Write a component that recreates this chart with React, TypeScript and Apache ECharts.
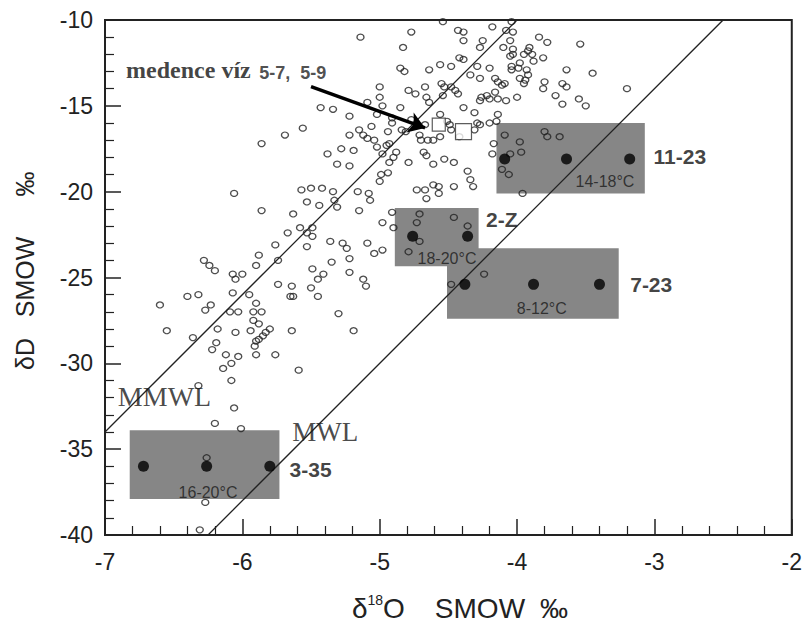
import React, { useEffect, useRef } from "react";
import * as echarts from "echarts";

// δ18O (‰) of the small open-circle samples
const d18O = [
  -5.14, -4.77, -4.54, -4.43, -4.39, -4.39, -4.18, -4.04, -4.08, -4.03,
  -4.27, -4.25, -4.10, -4.05, -4.03, -4.03, -3.84, -3.78, -3.54, -3.91,
  -3.95, -3.89, -3.81, -3.88, -4.05, -4.83, -4.85, -4.82, -5.00, -5.00,
  -4.79, -4.74, -5.09, -4.64, -4.56, -4.48, -4.42, -4.39, -4.29, -4.20,
  -4.34, -4.27, -4.16, -4.14, -4.09, -4.11, -4.67, -4.55, -4.53, -4.54,
  -4.48, -4.45, -4.43, -4.66, -4.64, -4.26, -4.22, -4.20, -4.14, -4.16,
  -4.08, -4.00, -4.27, -4.04, -3.98, -3.99, -4.04, -3.93, -3.92, -3.94,
  -3.98, -3.95, -3.64, -3.45, -3.80, -3.81, -3.67, -3.64, -3.20, -3.72,
  -3.55, -3.92, -3.67, -3.50, -4.39, -4.31, -4.14, -5.43, -5.34, -4.98,
  -4.85, -5.02, -5.22, -4.91, -5.56, -5.69, -5.22, -5.15, -5.06, -5.12,
  -4.91, -4.84, -4.81, -5.86, -4.51, -4.49, -4.29, -4.27, -4.20, -4.15,
  -4.48, -4.31, -4.09, -3.98, -3.80, -3.78, -3.69, -4.70, -4.65, -4.61,
  -5.09, -5.04, -4.42, -4.71, -5.28, -5.19, -5.31, -5.22, -5.38, -5.02,
  -4.93, -4.88, -4.98, -4.90, -4.93, -4.99, -4.94, -5.00, -6.06, -5.57,
  -5.50, -5.42, -5.34, -5.16, -5.08, -4.79, -4.68, -4.66, -4.61, -4.53,
  -4.46, -4.36, -4.17, -4.18, -4.73, -4.67, -4.61, -4.57, -4.57, -4.46,
  -4.34, -4.32, -3.96, -4.11, -4.06, -4.05, -3.97, -5.07, -5.33, -4.66,
  -5.53, -5.44, -5.31, -5.86, -5.63, -5.15, -4.91, -4.98, -5.58, -5.49,
  -5.53, -5.49, -5.67, -4.90, -5.53, -5.76, -5.36, -5.27, -5.24, -5.09,
  -5.04, -4.98, -4.71, -4.73, -4.46, -4.36, -4.71, -4.79, -5.88, -5.90,
  -5.74, -6.28, -6.24, -6.20, -5.35, -5.22, -5.49, -5.41, -5.45, -5.50,
  -5.22, -6.07, -6.05, -6.00, -5.74, -5.64, -5.65, -5.63, -5.45, -5.12,
  -5.10, -6.07, -5.95, -6.40, -6.32, -6.60, -6.23, -6.27, -6.03, -6.09,
  -5.92, -5.86, -5.90, -5.30, -4.24, -4.48, -5.92, -5.88, -5.80, -5.83,
  -5.85, -5.88, -5.90, -5.91, -5.94, -6.05, -5.64, -6.18, -6.55, -5.19,
  -6.36, -6.19, -6.22, -6.12, -6.03, -5.90, -5.76, -6.08, -6.14, -5.59,
  -6.08, -6.32, -6.06, -6.20, -6.01, -6.26, -6.27, -6.31, -4.56, -4.56,
  -4.77, -4.67, -4.94, -4.95,
];

// δD (‰) of the same samples
const dD = [
  -11.0, -10.7, -10.1, -10.6, -10.7, -11.2, -10.4, -10.1, -10.6, -10.7,
  -11.6, -11.2, -11.6, -11.2, -11.7, -12.0, -11.0, -11.3, -11.4, -11.6,
  -12.0, -12.0, -12.2, -12.4, -12.1, -11.6, -12.8, -13.0, -13.9, -14.5,
  -14.1, -14.3, -14.8, -12.9, -12.6, -12.7, -12.2, -12.3, -12.7, -12.8,
  -13.2, -13.4, -13.4, -13.6, -13.7, -13.8, -13.9, -13.7, -13.9, -14.4,
  -13.9, -14.1, -14.3, -14.5, -14.8, -14.5, -14.4, -14.6, -14.6, -14.2,
  -14.7, -14.5, -14.7, -12.7, -12.5, -12.8, -12.9, -12.9, -13.2, -13.5,
  -13.4, -13.7, -12.9, -13.1, -13.6, -14.0, -13.7, -13.9, -14.0, -14.4,
  -14.6, -11.8, -14.9, -15.0, -15.1, -15.4, -15.5, -15.1, -15.2, -15.0,
  -15.1, -15.5, -15.6, -15.7, -16.3, -16.7, -16.7, -16.4, -16.2, -16.7,
  -16.0, -16.4, -16.5, -17.2, -15.9, -16.1, -16.0, -16.1, -16.0, -15.9,
  -16.4, -16.4, -16.7, -17.1, -16.5, -16.8, -16.8, -17.0, -17.0, -17.0,
  -16.9, -17.0, -16.8, -16.7, -17.5, -17.6, -18.4, -18.5, -17.8, -17.4,
  -17.2, -17.7, -17.8, -18.0, -18.3, -19.0, -18.9, -19.4, -20.1, -19.9,
  -19.8, -19.8, -20.0, -20.0, -20.1, -18.3, -17.7, -17.9, -18.4, -18.1,
  -18.3, -18.8, -17.2, -17.8, -19.9, -19.9, -19.6, -19.7, -20.1, -19.7,
  -19.3, -19.7, -20.1, -18.7, -19.0, -17.8, -17.7, -20.5, -20.5, -20.4,
  -20.6, -20.8, -20.9, -21.1, -21.3, -21.1, -21.2, -21.8, -22.1, -22.1,
  -22.4, -22.6, -22.4, -22.1, -23.2, -23.1, -22.9, -23.0, -23.3, -23.0,
  -23.6, -23.4, -21.3, -21.8, -21.5, -22.0, -22.9, -23.5, -23.7, -24.3,
  -24.0, -24.0, -24.3, -24.6, -24.1, -23.9, -24.5, -24.8, -25.1, -25.6,
  -24.7, -24.8, -25.1, -24.8, -25.4, -25.5, -26.1, -26.1, -26.1, -25.1,
  -25.5, -25.9, -26.0, -26.1, -26.0, -26.6, -26.6, -26.9, -27.0, -27.0,
  -27.0, -27.0, -26.5, -27.1, -24.8, -25.4, -27.5, -27.7, -28.0, -28.2,
  -28.4, -28.6, -28.7, -29.0, -28.1, -28.2, -28.1, -28.0, -28.1, -28.1,
  -28.5, -28.8, -29.2, -29.5, -29.6, -29.5, -29.5, -30.0, -30.3, -30.4,
  -31.0, -31.3, -32.6, -33.5, -33.8, -35.5, -38.1, -39.7, -15.5, -16.8,
  -15.8, -16.1, -16.5, -17.3,
];

// Spring groups (shaded boxes)
const groupNames = ["11-23", "2-Z", "7-23", "3-35"];
const groupTemps = ["14-18°C", "18-20°C", "8-12°C", "16-20°C"];
const groupBoxO = [[-4.15, -3.07], [-4.89, -4.28], [-4.51, -3.26], [-6.82, -5.73]];
const groupBoxD = [[-16.0, -20.1], [-20.95, -24.35], [-23.3, -27.4], [-33.9, -37.9]];
const groupSampleO = [[-4.09, -3.64, -3.18], [-4.76, -4.36], [-4.38, -3.88, -3.40], [-6.72, -6.26, -5.80]];
const groupSampleD = [-18.1, -22.6, -25.4, -36.0];

// Basin water samples (5-7, 5-9) – open squares
const basinO = [-4.57, -4.39];
const basinD = [-16.1, -16.5];

// Meteoric water lines
const mmwlO = [-7.0, -4.0];
const mmwlD = [-34.0, -10.0];
const mwlO = [-6.25, -2.5];
const mwlD = [-40.0, -10.0];

// Axis ranges
const xRange = [-7, -2];
const yRange = [-40, -10];

// Annotation anchors (data coordinates)
const groupLabelAt = [[-3.01, -17.95], [-4.23, -21.6], [-3.18, -25.4], [-5.66, -36.2]];
const groupTempAt = [[-3.36, -19.43], [-4.51, -23.9], [-3.82, -26.8], [-6.25, -37.5]];
const arrowFrom = [-5.50, -13.88];
const arrowTo = [-4.67, -16.29];

const SANS = "'Liberation Sans', Arial, Helvetica, sans-serif";
const SERIF = "'Liberation Serif', 'Times New Roman', serif";

export default function App() {
  const ref = useRef<HTMLDivElement>(null);

  useEffect(() => {
    if (!ref.current) return;
    const chart = echarts.init(ref.current, null, { renderer: "svg" });

    const points = d18O.map((x, i) => [x, dD[i]]);
    const boxAreas = groupBoxO.map((xo, i) => [
      { coord: [xo[0], groupBoxD[i][0]] },
      { coord: [xo[1], groupBoxD[i][1]] },
    ]);
    const samples: number[][] = [];
    groupSampleO.forEach((xs, i) => xs.forEach((x) => samples.push([x, groupSampleD[i]])));

    const txt = (pos: number[], text: string, style: any) => ({
      value: pos,
      label: { show: true, formatter: text, ...style },
    });
    const labels: any[] = [];
    groupNames.forEach((n, i) =>
      labels.push(
        txt(groupLabelAt[i], n, {
          position: "right",
          distance: 0,
          fontFamily: SANS,
          fontWeight: "bold",
          fontSize: 21,
          color: "#111",
        })
      )
    );
    groupTemps.forEach((t, i) =>
      labels.push(
        txt(groupTempAt[i], t, {
          position: "inside",
          fontFamily: SANS,
          fontSize: 16,
          color: "#1a1a1a",
        })
      )
    );
    labels.push(
      txt([-6.85, -12.91], "medence víz", {
        position: "right",
        distance: 0,
        fontFamily: SERIF,
        fontWeight: "bold",
        fontSize: 24,
        color: "#111",
      })
    );
    labels.push(
      txt([-5.88, -13.09], "5-7,  5-9", {
        position: "right",
        distance: 0,
        fontFamily: SANS,
        fontWeight: "bold",
        fontSize: 18,
        color: "#222",
      })
    );
    labels.push(
      txt([-6.91, -31.96], "MMWL", {
        position: "right",
        distance: 0,
        fontFamily: SERIF,
        fontSize: 28,
        color: "#1a1a1a",
      })
    );
    labels.push(
      txt([-5.64, -34.0], "MWL", {
        position: "right",
        distance: 0,
        fontFamily: SERIF,
        fontSize: 27,
        color: "#1a1a1a",
      })
    );

    const axisCommon = {
      type: "value",
      axisLine: { show: true, onZero: false, lineStyle: { color: "#222", width: 2 } },
      axisTick: { show: true, inside: true, length: 16, lineStyle: { color: "#222", width: 1.5 } },
      minorTick: { show: true, splitNumber: 5, length: 9, lineStyle: { color: "#222", width: 1.2 } },
      splitLine: { show: false },
      minorSplitLine: { show: false },
    };

    chart.setOption({
      animation: false,
      backgroundColor: "#fff",
      grid: {
        left: 105,
        right: 13,
        top: 20,
        bottom: 88,
        show: true,
        borderColor: "#222",
        borderWidth: 2,
      },
      xAxis: {
        ...axisCommon,
        min: xRange[0],
        max: xRange[1],
        interval: 1,
        axisLabel: { fontSize: 23, color: "#222", fontFamily: SANS, margin: 15 },
      },
      yAxis: {
        ...axisCommon,
        min: yRange[0],
        max: yRange[1],
        interval: 5,
        axisLabel: { fontSize: 23, color: "#222", fontFamily: SANS, margin: 12 },
      },
      graphic: [
        // y-axis title (reads bottom to top): "δD  SMOW" then "‰"
        {
          type: "text",
          x: 25,
          y: 370,
          rotation: Math.PI / 2,
          style: {
            text: "δD   SMOW",
            font: `25px ${SANS}`,
            fill: "#222",
            align: "left",
            verticalAlign: "middle",
          },
        },
        {
          type: "text",
          x: 25,
          y: 184,
          rotation: Math.PI / 2,
          style: {
            text: "‰",
            font: `25px ${SANS}`,
            fill: "#222",
            align: "center",
            verticalAlign: "middle",
          },
        },
        // x-axis title
        {
          type: "text",
          x: 460,
          y: 608,
          style: {
            text: "{a|δ}{s|18}{a|O}{g1|}{a|SMOW}{g2|}{a|‰}",
            align: "center",
            verticalAlign: "middle",
            rich: {
              a: { fontFamily: SANS, fontSize: 28, fill: "#222", color: "#222", lineHeight: 30 },
              s: { fontFamily: SANS, fontSize: 14, fill: "#222", color: "#222", verticalAlign: "top", lineHeight: 30 },
              g1: { width: 30 },
              g2: { width: 15 },
            },
          },
        },
      ],
      series: [
        {
          name: "boxes",
          type: "scatter",
          z: 1,
          silent: true,
          symbolSize: 0,
          data: [],
          markArea: {
            silent: true,
            itemStyle: { color: "#868686", opacity: 1 },
            label: { show: false },
            data: boxAreas,
          },
        },
        {
          name: "MMWL",
          type: "line",
          z: 2,
          symbol: "none",
          silent: true,
          lineStyle: { color: "#222", width: 1.3 },
          data: mmwlO.map((x, i) => [x, mmwlD[i]]),
        },
        {
          name: "MWL",
          type: "line",
          z: 2,
          symbol: "none",
          silent: true,
          lineStyle: { color: "#222", width: 1.3 },
          data: mwlO.map((x, i) => [x, mwlD[i]]),
        },
        {
          name: "samples",
          type: "scatter",
          z: 3,
          symbol: "circle",
          symbolSize: [7, 6],
          itemStyle: { color: "rgba(0,0,0,0)", borderColor: "#222", borderWidth: 1.3 },
          data: points,
        },
        {
          name: "springs",
          type: "scatter",
          z: 4,
          symbol: "circle",
          symbolSize: 11,
          itemStyle: { color: "#000" },
          data: samples,
        },
        {
          name: "basin",
          type: "scatter",
          z: 5,
          symbol: "rect",
          itemStyle: { color: "#fff", borderColor: "#333", borderWidth: 1.2 },
          data: basinO.map((x, i) => ({ value: [x, basinD[i]], symbolSize: i === 0 ? 13 : 16 })),
          markLine: {
            silent: true,
            symbol: ["none", "arrow"],
            symbolSize: 16,
            label: { show: false },
            lineStyle: { color: "#000", width: 3.5, type: "solid" },
            data: [[{ coord: arrowFrom }, { coord: arrowTo }]],
          },
        },
        {
          name: "labels",
          type: "scatter",
          z: 7,
          silent: true,
          symbolSize: 1,
          itemStyle: { color: "rgba(0,0,0,0)" },
          data: labels,
        },
      ],
    });

    return () => chart.dispose();
  }, []);

  return (
    <div
      ref={ref}
      style={{ position: "fixed", left: 0, top: 0, width: 805, height: 623, background: "#fff" }}
    />
  );
}
